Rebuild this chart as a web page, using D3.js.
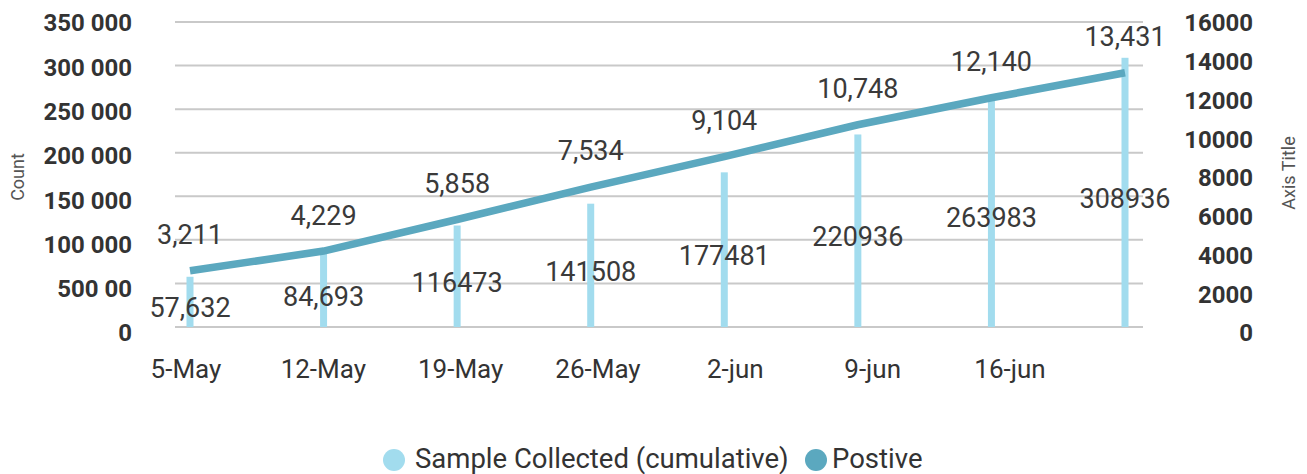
<!DOCTYPE html>
<html>
<head>
<meta charset="utf-8">
<script src="https://cdn.jsdelivr.net/npm/d3@7"></script>
<style>
  body { margin: 0; background: #fff; }
  svg { font-family: Roboto, "Noto Sans", sans-serif; }
</style>
</head>
<body>
<svg id="chart" width="1307" height="474"></svg>
<script>
// data
var dates = ['5-May', '12-May', '19-May', '26-May', '2-jun', '9-jun', '16-jun', '23-jun']
var xLabels = ['5-May', '12-May', '19-May', '26-May', '2-jun', '9-jun', '16-jun']
var samples = [57632, 84693, 116473, 141508, 177481, 220936, 263983, 308936]
var sampleLabels = ['57,632', '84,693', '116473', '141508', '177481', '220936', '263983', '308936']
var positives = [3211, 4229, 5858, 7534, 9104, 10748, 12140, 13431]
var leftTicks = [0, 50000, 100000, 150000, 200000, 250000, 300000, 350000]
var leftTickLabels = ['0', '500 00', '100 000', '150 000', '200 000', '250 000', '300 000', '350 000']
var rightTicks = [0, 2000, 4000, 6000, 8000, 10000, 12000, 14000, 16000]

var barColor = '#a2dcee'
var lineColor = '#5ba8bf'

var svg = d3.select('#chart')

// scales
var x = d3.scalePoint().domain(dates).range([190, 1125])
var xLab = d3.scalePoint().domain(xLabels).range([186, 1010])
var yL = d3.scaleLinear().domain([0, 350000]).range([327, 22])
var yLText = d3.scaleLinear().domain([0, 350000]).range([333, 23])
var yR = d3.scaleLinear().domain([0, 16000]).range([333, 23])

// gridlines
svg.append('g').selectAll('line')
  .data(leftTicks)
  .enter()
  .append('line')
  .attr('x1', 175).attr('x2', 1143)
  .attr('y1', d => yL(d)).attr('y2', d => yL(d))
  .attr('stroke', '#c9c9c9')
  .attr('stroke-width', 2)

// left axis labels
svg.append('g').selectAll('text')
  .data(leftTicks)
  .enter()
  .append('text')
  .attr('x', 132)
  .attr('y', d => yLText(d))
  .attr('dy', '0.35em')
  .attr('text-anchor', 'end')
  .attr('fill', '#333')
  .style('font-size', '24px')
  .style('font-weight', 'bold')
  .text((d, i) => leftTickLabels[i])

// right axis labels
svg.append('g').selectAll('text')
  .data(rightTicks)
  .enter()
  .append('text')
  .attr('x', 1253)
  .attr('y', d => yR(d))
  .attr('dy', '0.35em')
  .attr('text-anchor', 'end')
  .attr('fill', '#333')
  .style('font-size', '24px')
  .style('font-weight', 'bold')
  .text(d => d)

// axis titles
svg.append('text')
  .attr('transform', 'translate(24,177) rotate(-90)')
  .attr('text-anchor', 'middle')
  .attr('fill', '#555')
  .style('font-size', '18px')
  .text('Count')

svg.append('text')
  .attr('transform', 'translate(1295,173) rotate(-90)')
  .attr('text-anchor', 'middle')
  .attr('fill', '#555')
  .style('font-size', '18px')
  .text('Axis Title')

// x labels
svg.append('g').selectAll('text')
  .data(xLabels)
  .enter()
  .append('text')
  .attr('x', d => xLab(d))
  .attr('y', 378)
  .attr('text-anchor', 'middle')
  .attr('fill', '#333')
  .style('font-size', '26px')
  .text(d => d)

// bars
svg.append('g').selectAll('rect')
  .data(samples)
  .enter()
  .append('rect')
  .attr('x', (d, i) => x(dates[i]) - 3.5)
  .attr('width', 7)
  .attr('y', d => yL(d))
  .attr('height', d => yL(0) - yL(d))
  .attr('fill', barColor)

// line
var line = d3.line()
  .x((d, i) => x(dates[i]))
  .y(d => yR(d))

svg.append('path')
  .datum(positives)
  .attr('fill', 'none')
  .attr('stroke', lineColor)
  .attr('stroke-width', 7.5)
  .attr('d', line)

// bar labels
svg.append('g').selectAll('text')
  .data(samples)
  .enter()
  .append('text')
  .attr('x', (d, i) => x(dates[i]))
  .attr('y', d => (yL(d) + yL(0)) / 2 + 6)
  .attr('dy', '0.35em')
  .attr('text-anchor', 'middle')
  .attr('fill', '#3a3a3a')
  .style('font-size', '27px')
  .text((d, i) => sampleLabels[i])

// line labels
svg.append('g').selectAll('text')
  .data(positives)
  .enter()
  .append('text')
  .attr('x', (d, i) => x(dates[i]))
  .attr('y', d => yR(d) - 36)
  .attr('dy', '0.35em')
  .attr('text-anchor', 'middle')
  .attr('fill', '#3a3a3a')
  .style('font-size', '27px')
  .text(d => d3.format(',')(d))

// legend
var legend = svg.append('g')
legend.append('circle').attr('cx', 394).attr('cy', 460).attr('r', 11).attr('fill', barColor)
legend.append('text').attr('x', 415).attr('y', 468)
  .attr('fill', '#333').style('font-size', '27.5px')
  .text('Sample Collected (cumulative)')
legend.append('circle').attr('cx', 816).attr('cy', 460).attr('r', 11).attr('fill', lineColor)
legend.append('text').attr('x', 832).attr('y', 468)
  .attr('fill', '#333').style('font-size', '27.5px')
  .text('Postive')
</script>
</body>
</html>
